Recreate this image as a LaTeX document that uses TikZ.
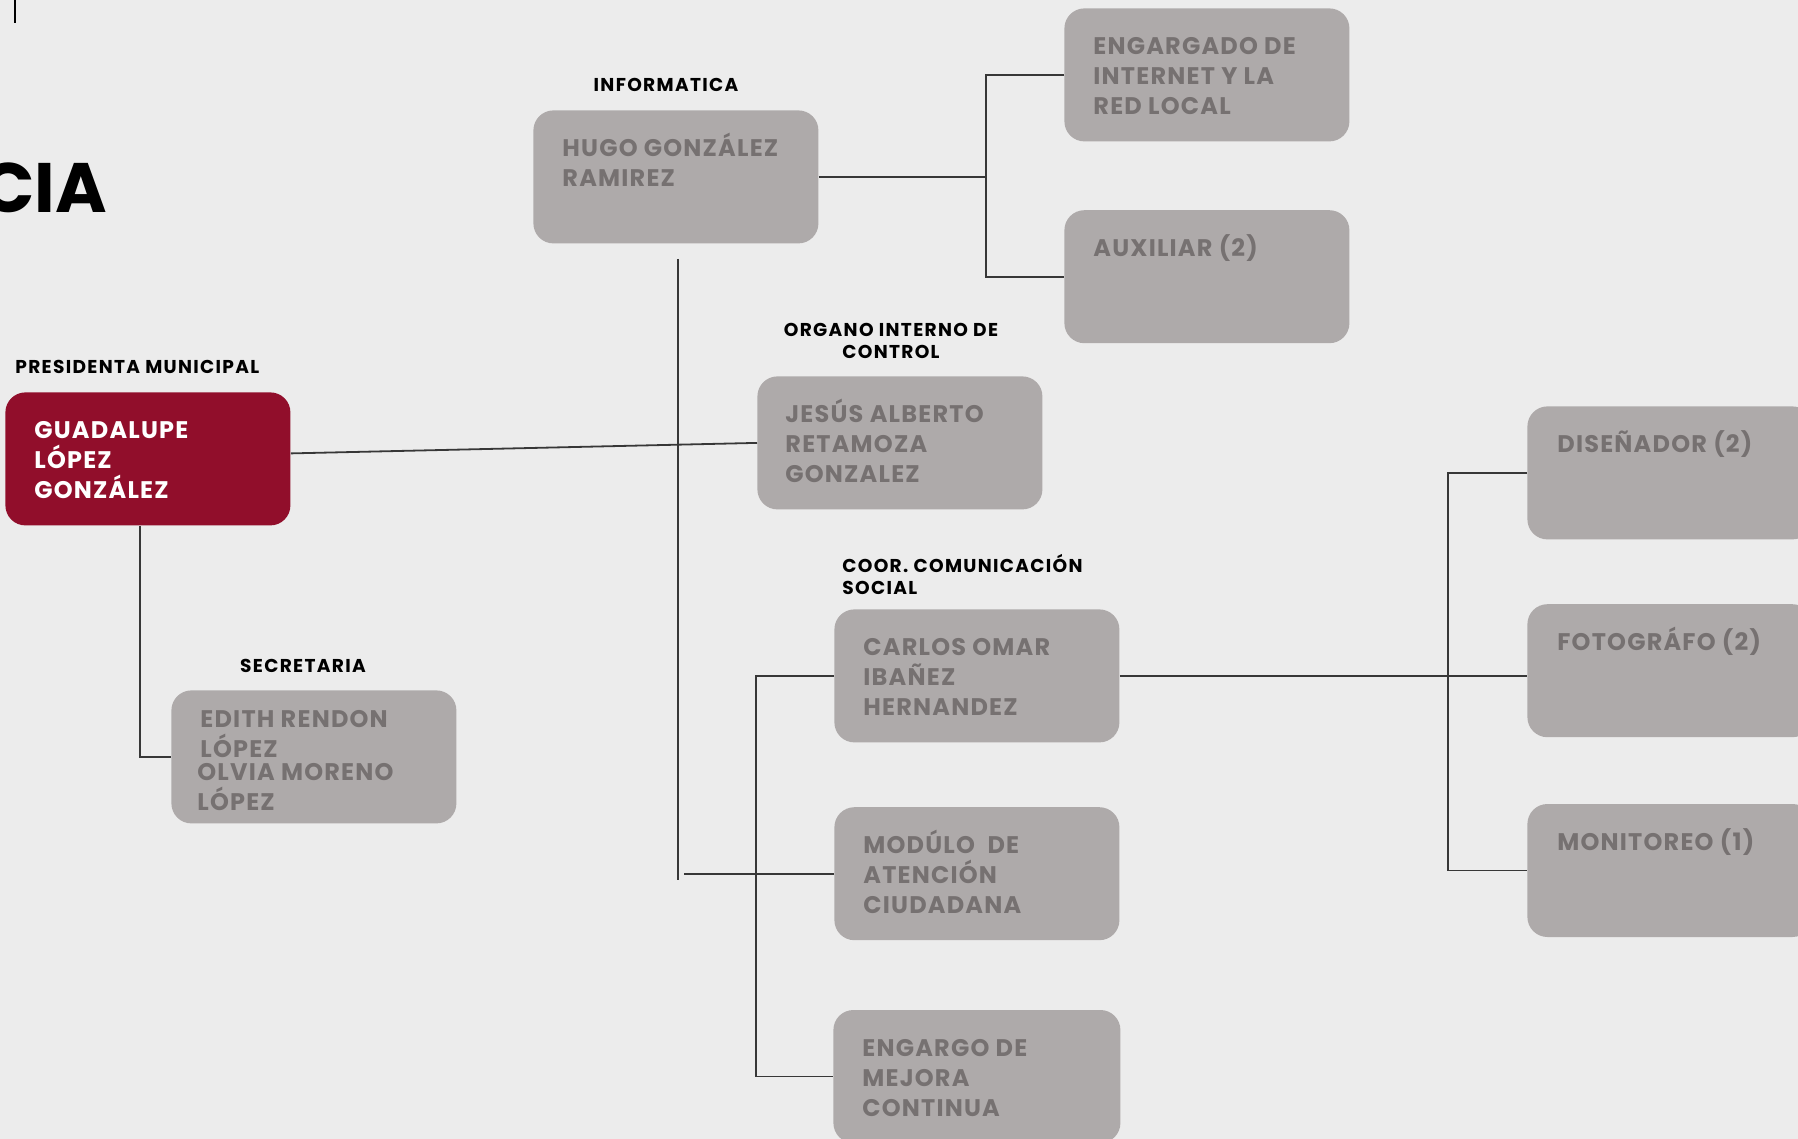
\documentclass[tikz,border=0pt]{standalone}
\usepackage{fontspec}
\setmainfont{Poppins}[LetterSpace=5]
\newfontfamily\etiqueta{Poppins}[LetterSpace=7]
\newfontfamily\titular{Poppins}
\usepackage{tikz}
\usetikzlibrary{positioning}
\definecolor{fondo}{RGB}{236,236,236}
\definecolor{grisbox}{RGB}{174,170,170}
\definecolor{grisletra}{RGB}{118,113,113}
\definecolor{guinda}{RGB}{145,14,43}
\definecolor{linea}{RGB}{55,55,55}
\newcommand{\arranque}{\rule{0pt}{13pt}}
\newcommand{\arranquechico}{\rule{0pt}{9pt}}

\begin{document}
\begin{tikzpicture}[x=0.5pt,y=-0.5pt,node distance=32pt]
  \tikzstyle{caja}=[draw=none,fill=grisbox,rounded corners=10pt,minimum width=142.5pt,minimum height=66.5pt,inner sep=0pt,anchor=north west]
  \tikzstyle{cajaroja}=[caja,fill=guinda]
  \tikzstyle{texto}=[anchor=north west,align=left,inner sep=0pt,text=grisletra,font=\fontsize{12}{15}\selectfont\bfseries]
  \tikzstyle{puesto}=[inner sep=0pt,text=black,font=\etiqueta\fontsize{9.3}{11}\selectfont\bfseries]
  \tikzstyle{conector}=[draw=linea,line width=0.9pt]

  \useasboundingbox (0,0) rectangle (1798,1139);
  \fill[fondo] (0,0) rectangle (1798,1139);

  % titulo cortado y marca
  \node[anchor=base east,inner sep=0pt,font=\titular\fontsize{35}{40}\selectfont\bfseries] (titulo) at (107,213) {CIA};
  \coordinate (marca) at (15,0);
  \draw[conector,draw=black] (marca) -- ++(0,23);

  % presidencia y secretaria
  \node[cajaroja] (pres) at (5,392) {};
  \node[texto,text=white] (pres-t) at ([shift={(29,20)}]pres.north west) {\arranque GUADALUPE\\LÓPEZ\\GONZÁLEZ};
  \node[puesto,anchor=base west] (pres-l) at (15,373) {PRESIDENTA\ MUNICIPAL};
  \node[caja] (secr) at (171,690) {};
  \node[texto] (secr-t) at ([shift={(29,11)}]secr.north west) {\arranque EDITH RENDON\\LÓPEZ};
  \node[texto] (secr-t2) at ([shift={(26,64)}]secr.north west) {\arranque OLVIA MORENO\\LÓPEZ};
  \node[puesto,anchor=base] (secr-l) at (303,672) {SECRETARIA};

  % informatica
  \node[caja] (hugo) at (533,110) {};
  \node[texto] (hugo-t) at ([shift={(29,20)}]hugo.north west) {\arranque HUGO GONZÁLEZ\\RAMIREZ};
  \node[puesto,anchor=base] (hugo-l) at (666,92) {INFORMATICA};
  \node[caja] (engar) at (1064,8) {};
  \node[texto] (engar-t) at ([shift={(29,20)}]engar.north west) {\arranque ENGARGADO DE\\INTERNET Y LA\\RED LOCAL};
  \node[caja,below=34pt of engar] (aux) {};
  \node[texto] (aux-t) at ([shift={(29,20)}]aux.north west) {\arranque AUXILIAR (2)};

  % contraloria
  \node[caja] (jesus) at (757,376) {};
  \node[texto] (jesus-t) at ([shift={(28,20)}]jesus.north west) {\arranque JESÚS ALBERTO\\RETAMOZA\\GONZALEZ};
  \node[puesto,anchor=north,align=center] (jesus-l) at (891,318) {\arranquechico ORGANO INTERNO DE\\CONTROL};

  % comunicacion social
  \node[caja] (carlos) at (834,609) {};
  \node[texto] (carlos-t) at ([shift={(29,20)}]carlos.north west) {\arranque CARLOS OMAR\\IBAÑEZ\\HERNANDEZ};
  \node[puesto,anchor=north west,align=left] (carlos-l) at (842,554) {\arranquechico COOR. COMUNICACIÓN\\SOCIAL};
  \node[caja,below=of carlos] (modulo) {};
  \node[texto] (modulo-t) at ([shift={(29,20)}]modulo.north west) {\arranque MODÚLO\ \ DE\\ATENCIÓN\\CIUDADANA};
  \node[caja,below=34.5pt of modulo,minimum width=143.5pt] (engargo) {};
  \node[texto] (engargo-t) at ([shift={(29,20)}]engargo.north west) {\arranque ENGARGO DE\\MEJORA\\CONTINUA};
  \node[caja] (disen) at (1527,406) {};
  \node[texto] (disen-t) at ([shift={(30,20)}]disen.north west) {\arranque DISEÑADOR (2)};
  \node[caja,below=of disen] (foto) {};
  \node[texto] (foto-t) at ([shift={(30,20)}]foto.north west) {\arranque FOTOGRÁFO (2)};
  \node[caja,below=33pt of foto] (monit) {};
  \node[texto] (monit-t) at ([shift={(30,20)}]monit.north west) {\arranque MONITOREO (1)};

  % conectores
  \coordinate (presbus) at (140,0);
  \draw[conector] (pres.south -| presbus) |- (secr.west);
  \draw[conector] ([yshift=2.75pt]pres.east) -- (jesus.west);
  \coordinate (infbus) at (986,0);
  \draw[conector] (hugo.east) -- (hugo.east -| infbus);
  \draw[conector] (engar.west) -- (engar.west -| infbus) -- (aux.west -| infbus) -- (aux.west);
  \coordinate (eje) at (678,880);
  \draw[conector] ([yshift=-7.5pt]hugo.south -| eje) -- (eje);
  \draw[conector] (modulo.west) -- ++(-150,0);
  \coordinate (combus) at (756,0);
  \draw[conector] (carlos.west) -- (carlos.west -| combus) -- (engargo.west -| combus) -- (engargo.west);
  \coordinate (socbus) at (1448,0);
  \draw[conector] (carlos.east) -- (carlos.east -| foto.west);
  \draw[conector] (disen.west) -- (disen.west -| socbus) -- (monit.west -| socbus) -- (monit.west);
\end{tikzpicture}
\end{document}
